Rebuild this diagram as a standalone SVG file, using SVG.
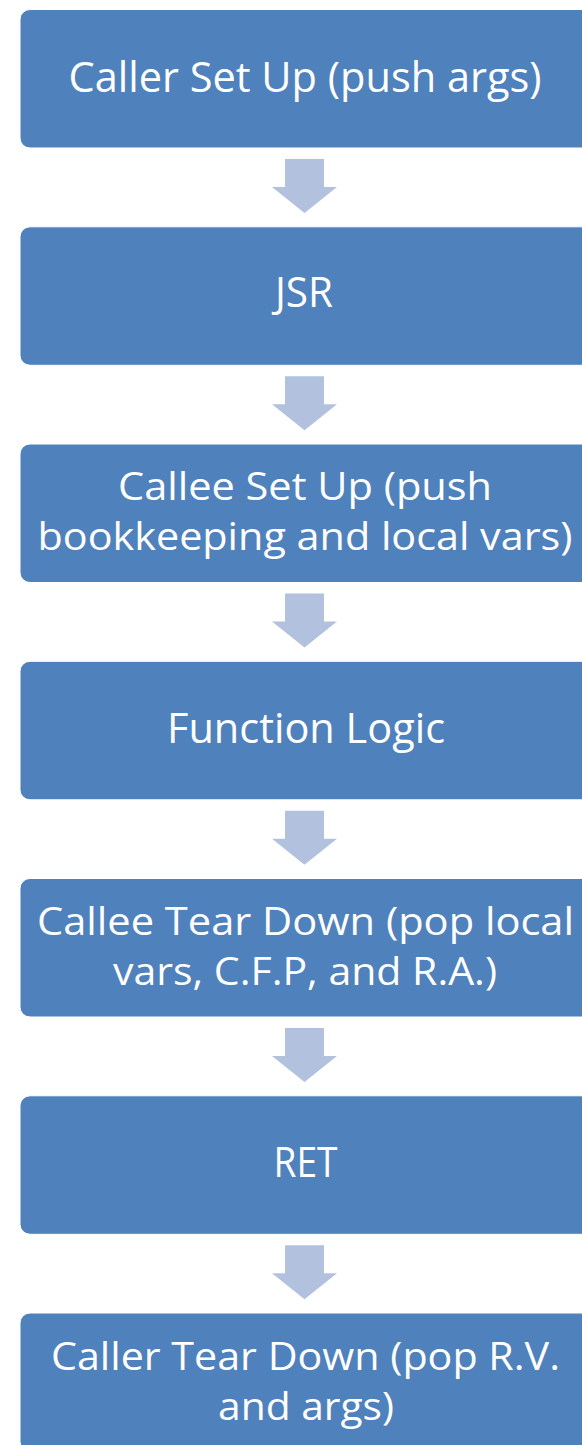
<svg xmlns="http://www.w3.org/2000/svg" width="582" height="1445" viewBox="0 0 582 1445">
  <style>
    .box { fill: #4F81BD; stroke: #FFFFFF; stroke-width: 1; }
    .arrow { fill: #B2C2DE; }
    .t1 { fill: #FFFFFF; font-family: "Open Sans", "Noto Sans", sans-serif; font-size: 42px; text-anchor: middle; }
    .t2 { fill: #FFFFFF; font-family: "Open Sans", "Noto Sans", sans-serif; font-size: 38px; text-anchor: middle; }
  </style>
  <rect x="0" y="0" width="582" height="1445" fill="#FFFFFF"/>
  <g id="connectors">
    <polygon class="arrow" points="285,159 324,159 324,187 337,187 304.5,213 272,187 285,187"/>
    <polygon class="arrow" points="285,376.3 324,376.3 324,404.3 337,404.3 304.5,430.3 272,404.3 285,404.3"/>
    <polygon class="arrow" points="285,593.5 324,593.5 324,621.5 337,621.5 304.5,647.5 272,621.5 285,621.5"/>
    <polygon class="arrow" points="285,810.8 324,810.8 324,838.8 337,838.8 304.5,864.8 272,838.8 285,838.8"/>
    <polygon class="arrow" points="285,1028 324,1028 324,1056 337,1056 304.5,1082 272,1056 285,1056"/>
    <polygon class="arrow" points="285,1245.3 324,1245.3 324,1273.3 337,1273.3 304.5,1299.3 272,1273.3 285,1273.3"/>
  </g>
  <g id="node1">
    <rect class="box" x="20" y="9.5" width="572" height="138.5" rx="10"/>
    <text class="t1" x="305" y="92" textLength="473" lengthAdjust="spacingAndGlyphs">Caller Set Up (push args)</text>
  </g>
  <g id="node2">
    <rect class="box" x="20" y="226.8" width="572" height="138.5" rx="10"/>
    <text class="t1" x="304" y="307" textLength="58" lengthAdjust="spacingAndGlyphs">JSR</text>
  </g>
  <g id="node3">
    <rect class="box" x="20" y="444" width="572" height="138.5" rx="10"/>
    <text class="t2" x="305" y="500" textLength="374" lengthAdjust="spacingAndGlyphs">Callee Set Up (push</text>
    <text class="t2" x="305" y="550" textLength="535" lengthAdjust="spacingAndGlyphs">bookkeeping and local vars)</text>
  </g>
  <g id="node4">
    <rect class="box" x="20" y="661.3" width="572" height="138.5" rx="10"/>
    <text class="t1" x="306" y="743.3" textLength="278" lengthAdjust="spacingAndGlyphs">Function Logic</text>
  </g>
  <g id="node5">
    <rect class="box" x="20" y="878.5" width="572" height="138.5" rx="10"/>
    <text class="t2" x="305.5" y="935" textLength="537" lengthAdjust="spacingAndGlyphs">Callee Tear Down (pop local</text>
    <text class="t2" x="305" y="985" textLength="384" lengthAdjust="spacingAndGlyphs">vars, C.F.P, and R.A.)</text>
  </g>
  <g id="node6">
    <rect class="box" x="20" y="1095.8" width="572" height="138.5" rx="10"/>
    <text class="t1" x="305.5" y="1177" textLength="64" lengthAdjust="spacingAndGlyphs">RET</text>
  </g>
  <g id="node7">
    <rect class="box" x="20" y="1313" width="572" height="138.5" rx="10"/>
    <text class="t2" x="305.5" y="1369.5" textLength="509" lengthAdjust="spacingAndGlyphs">Caller Tear Down (pop R.V.</text>
    <text class="t2" x="306" y="1419.5" textLength="176" lengthAdjust="spacingAndGlyphs">and args)</text>
  </g>
</svg>
